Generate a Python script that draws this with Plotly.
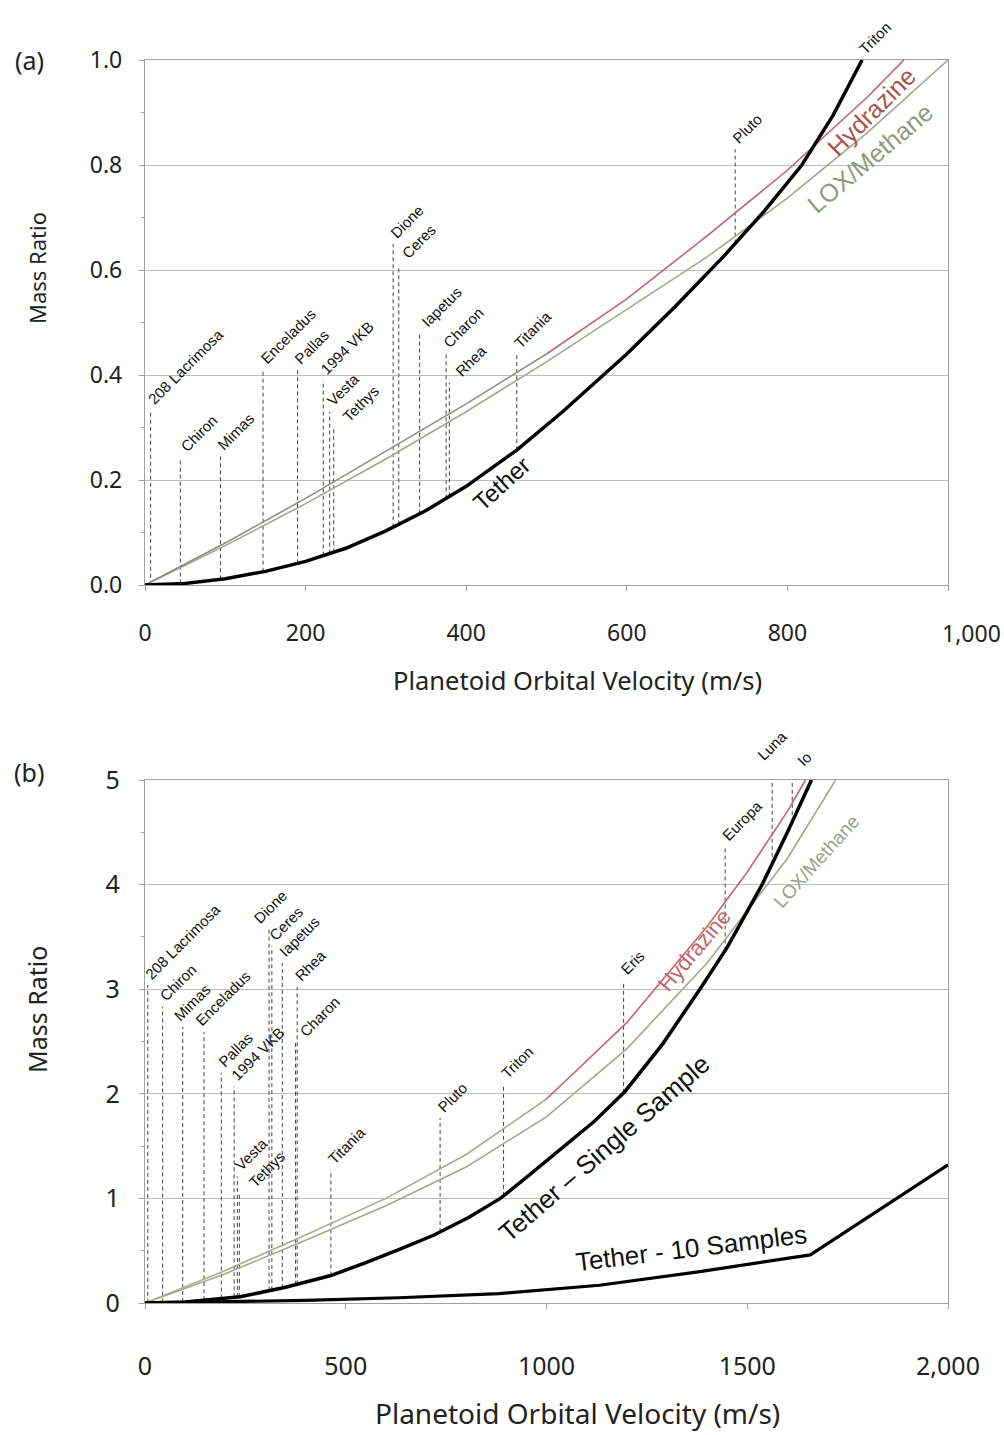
import numpy as np
import plotly.graph_objects as go

# ---------------- Panel (a): velocities up to 1,000 m/s ----------------
a_tether_vel = [0, 50, 100, 150, 200, 250, 300, 350, 400, 463, 520, 600, 660, 720, 770, 818, 857, 893]
a_tether = [0, 0.003, 0.012, 0.026, 0.045, 0.07, 0.103, 0.142, 0.188, 0.257, 0.33, 0.44, 0.53, 0.625, 0.71, 0.80, 0.895, 1.0]

a_hyd_vel = [0, 100, 200, 300, 400, 500, 600, 700, 800, 900, 945]
a_hyd = [0, 0.08, 0.165, 0.255, 0.345, 0.44, 0.545, 0.665, 0.79, 0.93, 1.0]

a_lox_vel = [0, 100, 200, 300, 400, 500, 600, 700, 800, 900, 1000]
a_lox = [0, 0.075, 0.155, 0.24, 0.33, 0.425, 0.525, 0.625, 0.737, 0.862, 1.0]

# ---------------- Panel (b): velocities up to 2,000 m/s ----------------
b_tether_vel = [0, 100, 237, 350, 461, 550, 632, 720, 807, 885, 950, 1036, 1120, 1195, 1290, 1382, 1450, 1537, 1600, 1660]
b_tether = [0, 0.01, 0.06, 0.15, 0.26, 0.385, 0.51, 0.65, 0.82, 1.0, 1.2, 1.47, 1.74, 2.02, 2.48, 3.0, 3.4, 4.0, 4.5, 5.0]

b_tether10_vel = [0, 200, 400, 632, 882, 1132, 1382, 1657, 2000]
b_tether10 = [0, 0.01, 0.025, 0.05, 0.09, 0.17, 0.30, 0.46, 1.32]

b_hyd_vel = [0, 200, 400, 600, 800, 1000, 1200, 1400, 1500, 1600, 1645]
b_hyd = [0, 0.31, 0.65, 1.0, 1.42, 1.95, 2.68, 3.6, 4.12, 4.7, 5.0]

b_lox_vel = [0, 200, 400, 600, 800, 1000, 1200, 1400, 1600, 1720]
b_lox = [0, 0.28, 0.6, 0.93, 1.3, 1.78, 2.43, 3.25, 4.25, 5.0]

# ---------------- Planetary bodies (orbital velocity, m/s) ----------------
bodies_a = ["208 Lacrimosa", "Chiron", "Mimas", "Enceladus", "Pallas", "1994 VKB", "Vesta", "Tethys",
            "Dione", "Ceres", "Iapetus", "Charon", "Rhea", "Titania", "Pluto", "Triton"]
body_vel_a = [7, 44, 94, 147, 190, 222, 230, 235, 309, 316, 342, 375, 379, 463, 735, 893]
body_top_a = [0.333, 0.242, 0.245, 0.41, 0.41, 0.39, 0.33, 0.30, 0.65, 0.61, 0.48, 0.44, 0.385, 0.44, 0.83, 1.0]

bodies_b = bodies_a + ["Eris", "Europa", "Luna", "Io"]
body_vel_b = body_vel_a + [1192, 1445, 1562, 1612]
body_top_b = [3.04, 2.83, 2.64, 2.59, 2.20, 2.07, 1.21, 1.05, 3.57, 3.41, 3.25, 2.49, 3.02, 1.27, 1.77, 2.09,
              3.08, 4.36, 4.98, 5.0]

# tick labels
a_xticks = [0, 200, 400, 600, 800, 1000]
a_xtext = ["0", "200", "400", "600", "800", ""]
a_xlast = "1,000"
a_yticks = [0, 0.2, 0.4, 0.6, 0.8, 1.0]
a_ytext = ["0.0", "0.2", "0.4", "0.6", "0.8", "1.0"]
b_xticks = [0, 500, 1000, 1500, 2000]
b_xtext = ["0", "500", "1000", "1500", "2,000"]
b_yticks = [0, 1, 2, 3, 4, 5]
b_ytext = ["0", "1", "2", "3", "4", "5"]

# ---------------- layout geometry (pixels) ----------------
W, H = 1004, 1435
PLOT_LEFT, PLOT_RIGHT = 145, 948
A_TOP, A_BOTTOM = 60, 585
B_TOP, B_BOTTOM = 780, 1303

SANS = "Noto Sans, Open Sans, sans-serif"
ARIAL = "Liberation Sans, Arial, sans-serif"
LABEL_FONT = dict(family=ARIAL, size=15, color="#111")

HYD_LOW_A = "#8d8d88"
HYD_LOW_B = "#a7ad8c"
HYD_HIGH = "#c4646c"
LOX_COL = "#a0a98f"
DASH_COL = "#444444"
AXIS_COL = "#a0a0a0"
GRID_COL = "#bdbdbd"

# small pixel nudges for crowded body labels
nudge_a = {"Chiron": (3, 0), "Tethys": (12, 0), "Ceres": (6, 0), "Iapetus": (5, 0), "Rhea": (9, 0)}
nudge_b = {"Dione": (-12, 0), "Tethys": (12, 0), "Charon": (7, 0), "Mimas": (-6, 0),
           "Enceladus": (-6, 0), "Luna": (-12, 16), "Io": (8, 8)}

fig = go.Figure()


def split_curve(vel, val, cut):
    n = len([v for v in vel if v <= cut])
    return vel[:n], val[:n], vel[n - 1:], val[n - 1:]


def add_panel(xa, ya, names, vel, tops, tether_vel, tether, curves, nudges):
    # dashed drop lines from the tether curve up to each body's label
    base = np.interp(vel, tether_vel, tether)
    dx, dy = [], []
    for v, b, t in zip(vel, base, tops):
        dx += [v, v, None]
        dy += [float(b), t, None]
    fig.add_trace(go.Scatter(x=dx, y=dy, mode="lines", xaxis=xa, yaxis=ya,
                             line=dict(color=DASH_COL, width=1, dash="4px,3px"),
                             hoverinfo="skip", showlegend=False))
    for cx, cy, col, width in curves:
        fig.add_trace(go.Scatter(x=cx, y=cy, mode="lines", xaxis=xa, yaxis=ya,
                                 line=dict(color=col, width=width),
                                 showlegend=False))
    for name, v, t in zip(names, vel, tops):
        sx, sy = nudges.get(name, (0, 0))
        fig.add_annotation(x=v, y=t, xref=xa, yref=ya, text=name, showarrow=False,
                           textangle=-45, xanchor="left", yanchor="bottom",
                           xshift=-9 + sx, yshift=sy, font=LABEL_FONT)


# panel (a)
lo_x, lo_y, hi_x, hi_y = split_curve(a_hyd_vel, a_hyd, 500)
add_panel("x", "y", bodies_a, body_vel_a, body_top_a, a_tether_vel, a_tether, [
    (a_lox_vel, a_lox, LOX_COL, 1.6),
    (lo_x, lo_y, HYD_LOW_A, 1.6),
    (hi_x, hi_y, HYD_HIGH, 1.6),
    (a_tether_vel, a_tether, "#000000", 3.5),
], nudge_a)

# panel (b)
lo_x, lo_y, hi_x, hi_y = split_curve(b_hyd_vel, b_hyd, 1000)
add_panel("x2", "y2", bodies_b, body_vel_b, body_top_b, b_tether_vel, b_tether, [
    (b_lox_vel, b_lox, LOX_COL, 1.6),
    (lo_x, lo_y, HYD_LOW_B, 1.6),
    (hi_x, hi_y, HYD_HIGH, 1.6),
    (b_tether10_vel, b_tether10, "#000000", 3.2),
    (b_tether_vel, b_tether, "#000000", 3.5),
], nudge_b)

# curve names written along the lines
curve_labels = [
    ("x", "y", 444, 0.194, "Tether", -42, 24, "#111"),
    ("x", "y", 905, 0.903, "Hydrazine", -45, 25, "#a5554f"),
    ("x", "y", 903, 0.813, "LOX/Methane", -40, 25, "#8f9a7c"),
    ("x2", "y2", 1145, 1.48, "Tether \u2013 Single Sample", -41, 26, "#111"),
    ("x2", "y2", 1362, 0.53, "Tether - 10 Samples", -7, 26, "#111"),
    ("x2", "y2", 1368, 3.37, "Hydrazine", -50, 22, "#c0686c"),
    ("x2", "y2", 1672, 4.22, "LOX/Methane", -48, 19, "#9aa38a"),
]
for xr, yr, x, y, txt, ang, size, col in curve_labels:
    fig.add_annotation(x=x, y=y, xref=xr, yref=yr, text=txt, showarrow=False, textangle=ang,
                       font=dict(family=ARIAL, size=size, color=col))


def paper_text(xc, yc, text, size, angle=0):
    fig.add_annotation(x=xc / W, y=1 - yc / H, xref="paper", yref="paper", text=text,
                       showarrow=False, textangle=angle, xanchor="center", yanchor="middle",
                       font=dict(family=SANS, size=size, color="#222"))


# axis titles, panel tags and the shifted last tick label of panel (a)
paper_text(577, 680, "Planetoid Orbital Velocity (m/s)", 25.5)
paper_text(577, 1413, "Planetoid Orbital Velocity (m/s)", 28)
paper_text(37, 268, "Mass Ratio", 22, -90)
paper_text(37, 1010, "Mass Ratio", 25, -90)
paper_text(29, 60, "(a)", 25)
paper_text(29, 772, "(b)", 25)
paper_text(971, 633, a_xlast, 23)

xdom = [PLOT_LEFT / W, PLOT_RIGHT / W]


def axis_style(size):
    return dict(showline=True, linecolor=AXIS_COL, linewidth=1.3, mirror=True,
                ticks="outside", ticklen=5, tickcolor=AXIS_COL, automargin=False,
                tickfont=dict(family=SANS, size=size, color="#222"), zeroline=False)


fig.update_layout(
    width=W, height=H, autosize=False,
    margin=dict(l=0, r=0, t=0, b=0, pad=0),
    paper_bgcolor="white", plot_bgcolor="white",
    showlegend=False,
    xaxis=dict(domain=xdom, range=[0, 1000], anchor="y", tickmode="array",
               tickvals=a_xticks, ticktext=a_xtext, showgrid=False, ticklabelstandoff=22,
               **axis_style(23)),
    yaxis=dict(domain=[1 - A_BOTTOM / H, 1 - A_TOP / H], range=[0, 1.0], anchor="x",
               tickmode="array", tickvals=a_yticks, ticktext=a_ytext,
               showgrid=True, gridcolor=GRID_COL, gridwidth=1.3, ticklabelstandoff=12,
               minor=dict(ticks="outside", ticklen=3, dtick=0.1, tickcolor=AXIS_COL),
               **axis_style(23)),
    xaxis2=dict(domain=xdom, range=[0, 2000], anchor="y2", tickmode="array",
                tickvals=b_xticks, ticktext=b_xtext, showgrid=False, ticklabelstandoff=36,
                **axis_style(25)),
    yaxis2=dict(domain=[1 - B_BOTTOM / H, 1 - B_TOP / H], range=[0, 5], anchor="x2",
                tickmode="array", tickvals=b_yticks, ticktext=b_ytext,
                showgrid=True, gridcolor=GRID_COL, gridwidth=1.3, ticklabelstandoff=14,
                minor=dict(ticks="outside", ticklen=3, dtick=0.5, tickcolor=AXIS_COL),
                **axis_style(25)),
)

fig.write_html("out.html")
